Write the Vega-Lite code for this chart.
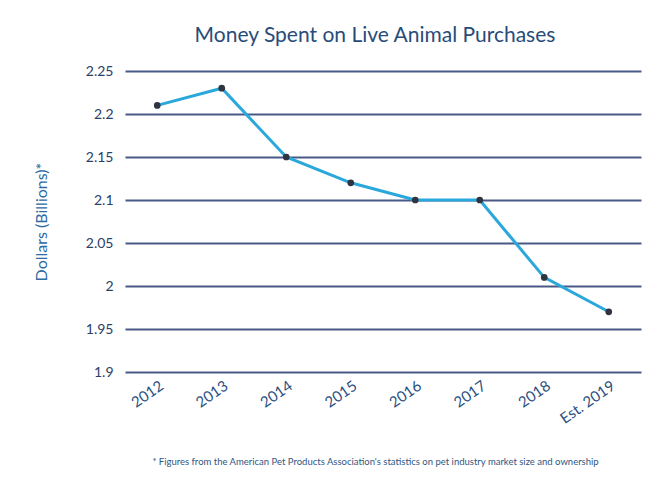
{
  "$schema": "https://vega.github.io/schema/vega-lite/v6.json",
  "width": 516,
  "height": 301,
  "autosize": {"type": "none"},
  "padding": {"left": 125, "top": 71, "right": 27, "bottom": 111},
  "background": "white",
  "title": {
    "text": "Money Spent on Live Animal Purchases",
    "font": "Lato",
    "fontSize": 21,
    "fontWeight": "normal",
    "color": "#284c7a",
    "anchor": "middle",
    "offset": 18,
    "dx": -8
  },
  "config": {
    "view": {"stroke": null},
    "font": "Lato"
  },
  "data": {
    "values": [
      {"year": "2012", "value": 2.21},
      {"year": "2013", "value": 2.23},
      {"year": "2014", "value": 2.15},
      {"year": "2015", "value": 2.12},
      {"year": "2016", "value": 2.10},
      {"year": "2017", "value": 2.10},
      {"year": "2018", "value": 2.01},
      {"year": "Est. 2019", "value": 1.97}
    ]
  },
  "encoding": {
    "x": {
      "field": "year",
      "type": "ordinal",
      "sort": null,
      "scale": {"type": "point", "padding": 0.5},
      "axis": {
        "title": "* Figures from the American Pet Products Association's statistics on pet industry market size and ownership",
        "titleFontSize": 9.5,
        "titleFontWeight": "normal",
        "titleColor": "#2f5684",
        "titlePadding": 30,
        "titleX": 250,
        "labelAngle": -35,
        "labelAlign": "right",
        "labelBaseline": "top",
        "labelFontSize": 15,
        "labelColor": "#2a4f7f",
        "labelPadding": 6,
        "ticks": false,
        "domain": false,
        "grid": false
      }
    },
    "y": {
      "field": "value",
      "type": "quantitative",
      "scale": {"domain": [1.9, 2.25], "zero": false, "nice": false},
      "axis": {
        "title": "Dollars (Billions)*",
        "titleFontSize": 16,
        "titleFontWeight": "normal",
        "titleColor": "#2e6aa3",
        "titlePadding": 36,
        "values": [1.9, 1.95, 2.0, 2.05, 2.1, 2.15, 2.2, 2.25],
        "format": ".3~g",
        "labelFontSize": 14,
        "labelColor": "#2c4066",
        "labelPadding": 12,
        "ticks": false,
        "domain": false,
        "grid": true,
        "gridColor": "#34477a",
        "gridWidth": 2,
        "gridOpacity": 0.9
      }
    }
  },
  "layer": [
    {"mark": {"type": "line", "color": "#2aa8dc", "strokeWidth": 3}},
    {"mark": {"type": "point", "filled": true, "color": "#2f3440", "size": 45, "opacity": 1}}
  ]
}
